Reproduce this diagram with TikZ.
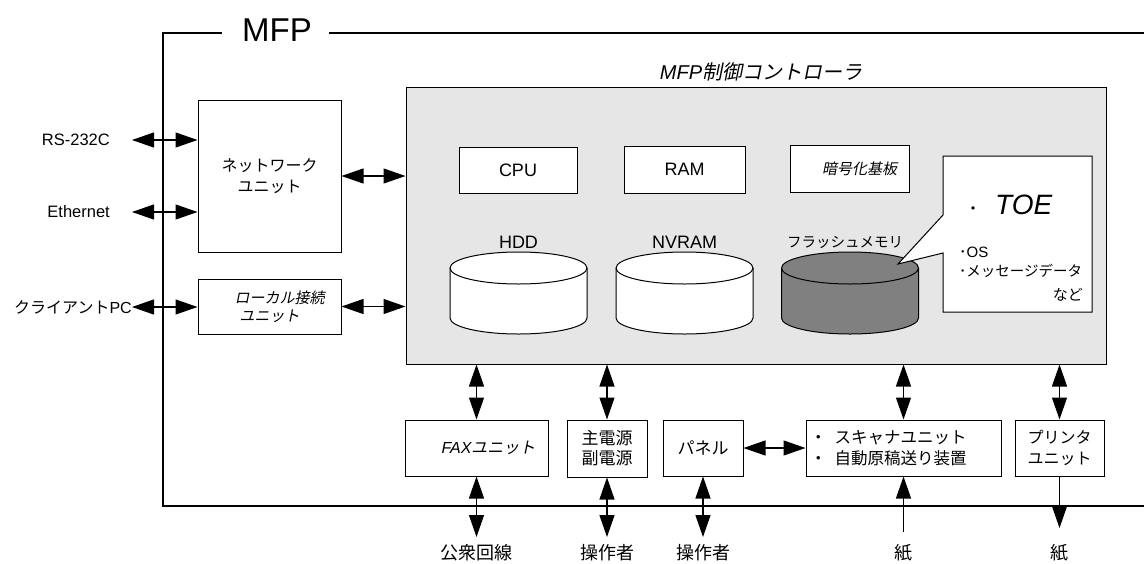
\documentclass[tikz,border=0pt]{standalone}
\usepackage{fontspec}
\setmainfont{Liberation Sans}
\newfontfamily\jp{Noto Sans CJK JP}
\newfontfamily\jpi[FakeSlant=0.2]{Noto Sans CJK JP}
\usetikzlibrary{arrows.meta}
\newcommand\fsz[2]{\fontsize{#1}{#2}\selectfont}
\definecolor{ctrlgray}{HTML}{E6E6E6}
\definecolor{cylgray}{HTML}{808080}
\tikzset{
  box/.style={draw, line width=1pt, fill=white, inner sep=0pt, align=center},
  txt/.style={inner sep=0pt, align=center},
  frame/.style={line width=1.3pt},
  biarrow/.style={line width=1.2pt, {Triangle[length=22pt,width=15pt]}-{Triangle[length=22pt,width=15pt]}},
  onearrow/.style={line width=1.2pt, -{Triangle[length=22pt,width=15pt]}},
}
\begin{document}
\begin{tikzpicture}[x=1pt,y=-1pt]
\useasboundingbox (0,0) rectangle (1144,563);
% MFP frame
\node[txt, font=\fsz{33}{36}] (mfp) at (277,30) {MFP};
\draw[frame] (222,33) -- (163,33) -- (163,506) -- (1144,506);
\draw[frame] (329,33) -- (1144,33);

% left units
\node[box, minimum width=143pt, minimum height=152pt, font=\fsz{16}{21}\jp] (net) at (269.5,176) {ネットワーク\\ユニット};
\node[box, minimum width=143pt, minimum height=55pt, font=\fsz{15}{18}\jpi] (loc) at (269.5,306.5) {\hspace*{20pt}ローカル接続\\ユニット};

% external labels left
\node[txt, anchor=east, font=\fsz{16.5}{18}] (rs) at (110,140) {RS-232C};
\node[txt, anchor=east, font=\fsz{16.5}{18}] (eth) at (110,212) {Ethernet};
\node[txt, anchor=east, font=\fsz{16}{18}] (cli) at (132,307) {{\jp クライアント}PC};
\coordinate (rsend) at (132,140);
\coordinate (ethend) at (132,212);
\coordinate (cliend) at (132,307);
\draw[biarrow] (rsend) -- (rsend -| net.west);
\draw[biarrow] (ethend) -- (ethend -| net.west);
\draw[biarrow] (cliend) -- (cliend -| loc.west);

% controller
\node[box, fill=ctrlgray, minimum width=700pt, minimum height=277pt] (ctrl) at (756,225.5) {};
\node[txt, font=\fsz{20}{24}\itshape] (ttl) at (761,72) {MFP{\jpi 制御コントローラ}};
\draw[biarrow] (net.east) -- (net.east -| ctrl.west);
\draw[biarrow] (loc.east) -- (loc.east -| ctrl.west);

\node[box, minimum width=118pt, minimum height=46pt, font=\fsz{18}{20}] (cpu) at (518,170) {CPU};
\node[box, minimum width=121pt, minimum height=47pt, font=\fsz{18}{20}] (ram) at (684.5,169.5) {RAM};
\node[box, minimum width=119pt, minimum height=47pt, font=\fsz{15}{18}\jpi] (enc) at (849.5,168.5) {\hspace*{20pt}暗号化基板};

% cylinders
\foreach \cx/\col in {518.5/white,684.5/white,850/cylgray}{
  \filldraw[line width=1pt, fill=\col] (\cx-68.5,268) -- (\cx-68.5,318)
     arc[start angle=180,end angle=0,x radius=68.5,y radius=16] -- (\cx+68.5,268)
     arc[start angle=0,end angle=-180,x radius=68.5,y radius=16] -- cycle;
  \draw[line width=1pt] (\cx-68.5,268) arc[start angle=180,end angle=0,x radius=68.5,y radius=16];
}
\node[txt, font=\fsz{18}{20}] (hdd) at (518.5,242) {HDD};
\node[txt, font=\fsz{18}{20}] (nvr) at (684.5,242) {NVRAM};
\node[txt, font=\fsz{14.5}{18}\jp] (fla) at (845,242) {フラッシュメモリ};

% TOE callout
\draw[line width=1pt, fill=white] (943,156) -- (1092,156) -- (1092,312) -- (943,312) -- (943,253) -- (898,264) -- (943,215) -- cycle;
\node[txt, anchor=west, font=\fsz{16}{18}\jp] (toe) at (965,205) {・\hspace*{14pt}{\fsz{28}{30}\rmfamily\itshape TOE}};
\node[txt, anchor=west, font=\fsz{15}{18}\jp] (os) at (959,252) {･{\rmfamily OS}};
\node[txt, anchor=west, font=\fsz{14.5}{18}\jp] (msg) at (959,271) {･メッセージデータ};
\node[txt, anchor=east, font=\fsz{15}{18}\jp] (etc) at (1083,295) {など};

% bottom units
\node[box, minimum width=143pt, minimum height=56pt, font=\fsz{16}{18}\itshape] (fax) at (476.5,448) {\hspace*{24pt}FAX{\jpi ユニット}};
\node[box, minimum width=80pt, minimum height=57pt, font=\fsz{17}{20}\jp] (pwr) at (607,448.5) {主電源\\副電源};
\node[box, minimum width=80pt, minimum height=56pt, font=\fsz{17}{20}\jp] (pnl) at (703,448) {パネル};
\node[box, minimum width=195pt, minimum height=56pt] (scn) at (903.5,448) {};
\node[txt, anchor=west, align=left, font=\fsz{16.5}{21}\jp] (scntxt) at (810,448) {・\hspace*{8pt}スキャナユニット\\・\hspace*{8pt}自動原稿送り装置};
\node[box, minimum width=89pt, minimum height=56pt, font=\fsz{16}{21}\jp] (prn) at (1059.5,448) {プリンタ\\ユニット};

\draw[biarrow] (fax.north |- ctrl.south) -- (fax.north);
\draw[biarrow] (pwr.north |- ctrl.south) -- (pwr.north);
\draw[biarrow] (scn.north |- ctrl.south) -- (scn.north);
\draw[biarrow] (prn.north |- ctrl.south) -- (prn.north);
\draw[biarrow] (pnl.east) -- (pnl.east -| scn.west);

% bottom externals
\coordinate (faxend) at (476.5,537);
\coordinate (pwrend) at (607,537);
\coordinate (pnlend) at (703,537);
\coordinate (scnend) at (903.5,532);
\coordinate (prnend) at (1059.5,528);
\draw[biarrow] (fax.south) -- (faxend);
\draw[biarrow] (pwr.south) -- (pwrend);
\draw[biarrow] (pnl.south) -- (pnlend);
\draw[onearrow] (scnend) -- (scn.south);
\draw[onearrow] (prn.south) -- (prnend);
\node[txt, font=\fsz{18}{20}\jp] (l1) at (476.5,553) {公衆回線};
\node[txt, font=\fsz{18}{20}\jp] (l2) at (607,553) {操作者};
\node[txt, font=\fsz{18}{20}\jp] (l3) at (703,553) {操作者};
\node[txt, font=\fsz{18}{20}\jp] (l4) at (903.5,553) {紙};
\node[txt, font=\fsz{18}{20}\jp] (l5) at (1059.5,553) {紙};
\end{tikzpicture}
\end{document}
